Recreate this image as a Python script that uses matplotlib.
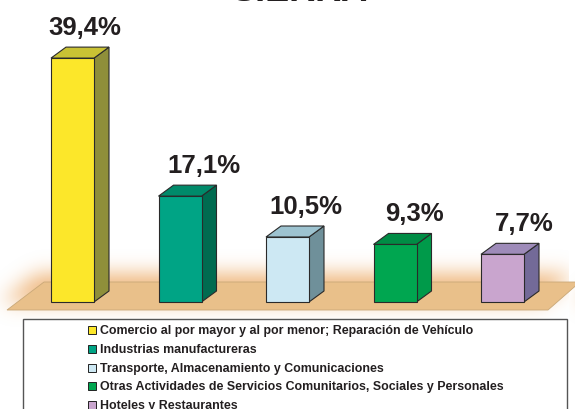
import numpy as np
import matplotlib
matplotlib.use('Agg')
import matplotlib.pyplot as plt
from matplotlib.patches import Polygon, Rectangle
from matplotlib.path import Path

# data
categories = [
    'Comercio al por mayor y al por menor; Reparación de Vehículo',
    'Industrias manufactureras',
    'Transporte, Almacenamiento y Comunicaciones',
    'Otras Actividades de Servicios Comunitarios, Sociales y Personales',
    'Hoteles y Restaurantes',
]
values = [39.4, 17.1, 10.5, 9.3, 7.7]
front_colors = ['#fce72a', '#00a485', '#cde8f3', '#00a650', '#c9a5ce']
side_colors = ['#8f8f3a', '#006b50', '#6f909a', '#009a4a', '#736a98']
top_colors = ['#c9c234', '#008a6a', '#9dc3d0', '#008c45', '#9e8bb9']
title = 'SIERRA'

W, H = 575, 410
PX = 6.19      # pixels per percent
BASE = 303     # pixel row of the bar bottoms


def yp(row):
    return (BASE - row) / PX


fig = plt.figure(figsize=(W / 100, H / 100), dpi=100)
ax = fig.add_axes([0, 0, 1, 1])
ax.set_xlim(0, W)
ax.set_ylim(yp(H), yp(0))
ax.axis('off')

# floor with soft glow
floor_px = [(7, 311), (44, 283), (580, 283), (548, 311)]
yy, xx = np.mgrid[0:H, 0:W] + 0.5
mask = Path(floor_px).contains_points(np.c_[xx.ravel(), yy.ravel()]).reshape(H, W).astype(float)
k = np.exp(-0.5 * (np.arange(-30, 31) / 10.0) ** 2)
k /= k.sum()
blur = np.apply_along_axis(lambda r: np.convolve(r, k, mode='same'), 1, mask)
blur = np.apply_along_axis(lambda c: np.convolve(c, k, mode='same'), 0, blur)
blur = np.roll(blur, (-8, -6), axis=(0, 1))
glow = np.zeros((H, W, 4))
glow[..., :3] = (0.93, 0.68, 0.42)
glow[..., 3] = np.clip(blur * 0.9, 0, 1)
ax.imshow(glow, extent=(0, W, yp(H), yp(0)), origin='upper', aspect='auto', zorder=0)

ax.add_patch(Polygon([(x, yp(r)) for x, r in floor_px], closed=True,
                     facecolor='#e9c08a', edgecolor='#c9a878', lw=0.6, zorder=1))

# 3d bars
x0, step, bw = 51, 107.5, 43
dx, dz = 15, 11 / PX
label_dx = [5, 16, 11, 12, 14]
xs = [x0 + i * step for i in range(len(values))]
ax.bar(xs, values, width=bw, align='edge', color=front_colors,
       edgecolor='#2a2a2a', lw=0.8, zorder=3)
for x, v, sc, tc, ldx in zip(xs, values, side_colors, top_colors, label_dx):
    ax.add_patch(Polygon([(x + bw, 0), (x + bw + dx, dz), (x + bw + dx, v + dz), (x + bw, v)],
                         closed=True, facecolor=sc, edgecolor='#2a2a2a', lw=0.8, zorder=2))
    ax.add_patch(Polygon([(x, v), (x + dx, v + dz), (x + bw + dx, v + dz), (x + bw, v)],
                         closed=True, facecolor=tc, edgecolor='#2a2a2a', lw=0.8, zorder=2))
    ax.text(x + (bw + dx) / 2 + ldx, v + dz + 13 / PX, f'{v:.1f}%'.replace('.', ','),
            ha='center', va='baseline', fontsize=18.5, fontweight='bold',
            family='Liberation Sans', color='#231f20', zorder=4)

# title (cut off at the top, as in the source)
fig.text(300 / W, 1 - 1 / H, title, ha='center', va='baseline', fontsize=26,
         fontweight='bold', family='Liberation Sans', color='#231f20')

# legend box
ax.add_patch(Rectangle((23, yp(420)), 544, yp(320) - yp(420), facecolor='white',
                       edgecolor='#555555', lw=1.0, zorder=5))
for i, (name, c) in enumerate(zip(categories, front_colors)):
    row = 331 + i * 18.8
    ax.add_patch(Rectangle((88, yp(row + 4)), 8, 8 / PX, facecolor=c,
                           edgecolor='#222222', lw=0.7, zorder=6))
    ax.text(100, yp(row), name, ha='left', va='center', fontsize=8.9,
            fontweight='bold', family='Liberation Sans', color='#231f20', zorder=6)

fig.savefig('out.png', dpi=100)
